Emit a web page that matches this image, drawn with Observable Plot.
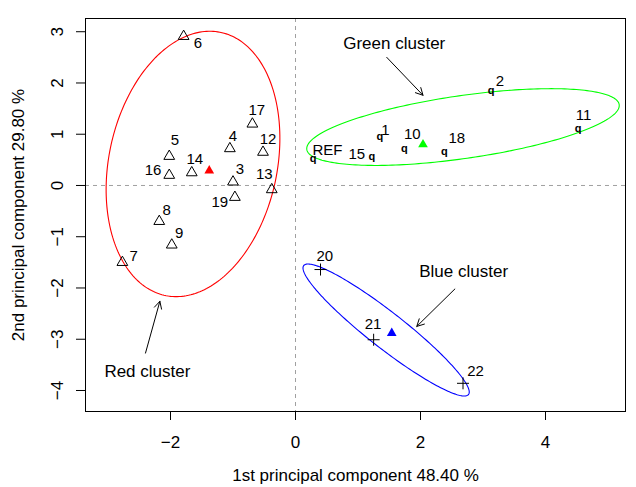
<!DOCTYPE html>
<html><head><meta charset="utf-8">
<script src="https://cdn.jsdelivr.net/npm/d3@7"></script>
<script src="https://cdn.jsdelivr.net/npm/@observablehq/plot@0.6"></script>
<style>body{margin:0;background:#fff}</style>
</head><body><div id="chart"></div>
<script>
// ---- Red cluster (open triangles) ----
const redIds = ["6","17","4","12","5","16","14","3","13","19","8","9","7"];
const redX = [-1.79,-0.69,-1.05,-0.52,-2.02,-2.02,-1.66,-1.00,-0.38,-0.97,-2.18,-1.98,-2.77];
const redY = [2.91,1.20,0.72,0.65,0.57,0.20,0.25,0.07,-0.08,-0.23,-0.70,-1.16,-1.50];
const redLabelX = [-1.56,-0.62,-1.00,-0.44,-1.93,-2.28,-1.61,-0.89,-0.50,-1.21,-2.06,-1.86,-2.59];
const redLabelY = [2.77,1.47,0.96,0.91,0.89,0.29,0.51,0.32,0.22,-0.33,-0.49,-0.94,-1.37];

// ---- Green cluster ("q" markers) ----
const greenIds = ["REF","15","1","10","18","2","11"];
const greenX = [0.28,1.22,1.35,1.74,2.38,3.13,4.52];
const greenY = [0.48,0.52,0.91,0.68,0.63,1.82,1.07];
const greenLabelX = [0.51,0.98,1.44,1.87,2.58,3.27,4.61];
const greenLabelY = [0.68,0.61,1.07,1.01,0.93,2.04,1.37];

// ---- Blue cluster (plus markers) ----
const blueIds = ["20","21","22"];
const blueX = [0.40,1.25,2.68];
const blueY = [-1.64,-3.01,-3.86];
const blueLabelX = [0.47,1.24,2.88];
const blueLabelY = [-1.37,-2.70,-3.63];

// ---- Cluster centres (filled triangles) ----
const clusterNames = ["Red","Green","Blue"];
const centreX = [-1.38,2.04,1.54];
const centreY = [0.29,0.80,-2.88];

// ---- Cluster ellipses: centre, conjugate half-axes (data units) ----
const ellCx = [-1.64,2.68,1.45];
const ellCy = [0.42,1.14,-2.82];
const ellAx = [1.39,2.50,1.33];
const ellAy = [0.50,0.42,-1.21];
const ellBy = [2.54,0.62,0.44];

// ---- Annotations ----
const annText = ["Red cluster","Green cluster","Blue cluster"];
const annX = [-2.37,1.58,2.69];
const annY = [-3.63,2.77,-1.68];
const arrowX1 = [-2.40,1.46,2.55];
const arrowY1 = [-3.27,2.50,-2.02];
const arrowX2 = [-2.17,2.04,1.94];
const arrowY2 = [-2.26,1.76,-2.75];

// ---- Axes ----
const xTicks = [-2,0,2,4];
const xTickLabels = ["\u22122","0","2","4"];
const yTicks = [-4,-3,-2,-1,0,1,2,3];
const yTickLabels = ["\u22124","\u22123","\u22122","\u22121","0","1","2","3"];
const xTitle = "1st principal component 48.40 %";
const yTitle = "2nd principal component 29.80 %";

// ---- styles ----
const clusterColor = {Red: "#ff0000", Green: "#00ff00", Blue: "#0000ff"};

// build tables
const redPts = redIds.map((id,i)=>({id, x: redX[i], y: redY[i], lx: redLabelX[i], ly: redLabelY[i]}));
const greenPts = greenIds.map((id,i)=>({id, x: greenX[i], y: greenY[i], lx: greenLabelX[i], ly: greenLabelY[i]}));
const bluePts = blueIds.map((id,i)=>({id, x: blueX[i], y: blueY[i], lx: blueLabelX[i], ly: blueLabelY[i]}));
const allLabels = [...redPts, ...greenPts, ...bluePts];
const centres = clusterNames.map((c,i)=>({cluster: c, x: centreX[i], y: centreY[i]}));
const ellPts = [];
clusterNames.forEach((c,i)=>{
  for (let k=0;k<=240;k++){
    const t = 2*Math.PI*k/240;
    ellPts.push({cluster: c, x: ellCx[i] + ellAx[i]*Math.cos(t), y: ellCy[i] + ellAy[i]*Math.cos(t) + ellBy[i]*Math.sin(t)});
  }
});
const anns = annText.map((t,i)=>({t, x: annX[i], y: annY[i], x1: arrowX1[i], y1: arrowY1[i], x2: arrowX2[i], y2: arrowY2[i]}));

const thinPlus = {draw(ctx, size){ const r = Math.sqrt(size/Math.PI); ctx.moveTo(-r,0); ctx.lineTo(r,0); ctx.moveTo(0,-r); ctx.lineTo(0,r);} };

const font = "'Liberation Sans', Arial, sans-serif";
const chart = Plot.plot({
  width: 636, height: 487,
  marginLeft: 85, marginRight: 11, marginTop: 18, marginBottom: 76,
  x: {domain: [-3.36, 5.28]},
  y: {domain: [-4.41, 3.258]},
  style: {fontFamily: font, fontSize: "17px", background: "white", color: "black"},
  marks: [
    Plot.ruleX([0], {stroke: "#a0a0a0", strokeDasharray: "4,4"}),
    Plot.ruleY([0], {stroke: "#a0a0a0", strokeDasharray: "4,4"}),
    Plot.line(ellPts, {x: "x", y: "y", z: "cluster", stroke: d=>clusterColor[d.cluster], strokeWidth: 1.1}),
    Plot.dot(redPts, {x: "x", y: "y", symbol: "triangle", r: 4, stroke: "black", fill: "none", strokeWidth: 1}),
    Plot.text(greenPts, {x: "x", y: "y", text: ()=>"q", fontWeight: "bold", fontSize: 11, dy: -2, fill: "black"}),
    Plot.dot(bluePts, {x: "x", y: "y", symbol: thinPlus, r: 6, stroke: "black", fill: "none", strokeWidth: 1}),
    Plot.dot(centres, {x: "x", y: "y", symbol: "triangle", r: 3.6, fill: d=>clusterColor[d.cluster], stroke: "none"}),
    Plot.text(allLabels, {x: "lx", y: "ly", text: "id", fontSize: 15, fill: "black"}),
    Plot.text(anns, {x: "x", y: "y", text: "t", fontSize: 17, fill: "black"}),
    Plot.arrow(anns, {x1: "x1", y1: "y1", x2: "x2", y2: "y2", stroke: "black", strokeWidth: 1, headLength: 12, headAngle: 55}),
    Plot.frame({stroke: "black"}),
    Plot.axisX({ticks: xTicks, tickSize: 9, tickFormat: ()=>"", label: null}),
    Plot.text(xTicks, {x: d=>d, text: (d,i)=>xTickLabels[i], frameAnchor: "bottom", textAnchor: "middle", lineAnchor: "middle", dy: 31, fontSize: 17}),
    Plot.axisY({ticks: yTicks, tickSize: 9, tickFormat: ()=>"", label: null}),
    Plot.text(yTicks, {y: d=>d, text: (d,i)=>yTickLabels[i], frameAnchor: "left", textAnchor: "middle", lineAnchor: "middle", dx: -28, rotate: -90, fontSize: 17}),
    Plot.text([xTitle], {text: d=>d, frameAnchor: "bottom", textAnchor: "middle", lineAnchor: "middle", dy: 64, fontSize: 17}),
    Plot.text([yTitle], {text: d=>d, frameAnchor: "left", textAnchor: "middle", lineAnchor: "middle", dx: -67, rotate: -90, fontSize: 17})
  ]
});
document.getElementById("chart").appendChild(chart);
</script>
</body></html>
